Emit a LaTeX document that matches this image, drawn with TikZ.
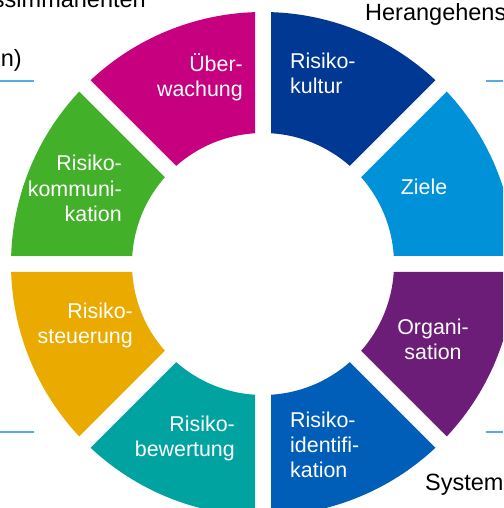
\documentclass[tikz,border=0pt]{standalone}
\usepackage{fontspec}
\setmainfont{Liberation Sans}
\usetikzlibrary{calc}

\definecolor{colKultur}{HTML}{003893}
\definecolor{colZiele}{HTML}{0091D9}
\definecolor{colOrga}{HTML}{6C1D78}
\definecolor{colIdent}{HTML}{005EB8}
\definecolor{colBewert}{HTML}{00A3A0}
\definecolor{colSteuer}{HTML}{EAAA00}
\definecolor{colKommu}{HTML}{43B02A}
\definecolor{colUeber}{HTML}{C6007E}
\definecolor{lineblue}{HTML}{52ADE0}

\begin{document}
\begin{tikzpicture}[x=1pt,y=1pt,
    seglabel/.style={text=white,inner sep=0pt,font=\fontsize{21.4}{25.5}\selectfont},
    backtext/.style={text=black,inner sep=0pt,font=\fontsize{23.5}{27}\selectfont},
    sideline/.style={draw=lineblue,line width=1.5pt}]
    \useasboundingbox (0,0) rectangle (503,508);
    \clip (0,0) rectangle (503,508);

    % text and rules behind the ring
    \node[backtext,anchor=base east] (prozess) at (146,500) {ssimmanenten};
    \node[backtext,anchor=base east] (klammer) at (22,441) {on)};
    \node[backtext,anchor=base west] (herang) at (365,487) {Herangehens};
    \node[backtext,anchor=base west] (system) at (425,17) {System};
    \draw[sideline] (0,427) -- (34,427);
    \draw[sideline] (486,427) -- (503,427);
    \draw[sideline] (0,76) -- (34,76);
    \draw[sideline] (486,76) -- (503,76);

    % ring of eight segments
    \begin{scope}[shift={(263,244)}]
    \foreach \a/\c in {0/colZiele,45/colKultur,90/colUeber,135/colKommu,
                       180/colSteuer,225/colBewert,270/colIdent,315/colOrga}
    {
        \fill[\c] ({\a+1.82}:252) arc[start angle=\a+1.82, end angle=\a+43.18, radius=252]
            -- ({\a+41.5}:131) arc[start angle=\a+41.5, end angle=\a+3.5, radius=131]
            -- cycle;
    }
    \end{scope}

    % labels (base = last line)
    \node[seglabel,align=right,anchor=base east] (ueberwachung) at (243,411) {Über-\\wachung};
    \node[seglabel,align=left,anchor=base west] (kultur) at (290,414) {Risiko-\\kultur};
    \node[seglabel,anchor=base] (ziele) at (424,313) {Ziele};
    \node[seglabel,align=center,anchor=base] (organisation) at (433,148) {Organi-\\sation};
    \node[seglabel,align=left,anchor=base west] (identifikation) at (290,30) {Risiko-\\identifi-\\kation};
    \node[seglabel,align=right,anchor=base east] (bewertung) at (235,51) {Risiko-\\bewertung};
    \node[seglabel,align=right,anchor=base east] (steuerung) at (133,164) {Risiko-\\steuerung};
    \node[seglabel,align=right,anchor=base east] (kommunikation) at (122,286) {Risiko-\\kommuni-\\kation};
\end{tikzpicture}
\end{document}
